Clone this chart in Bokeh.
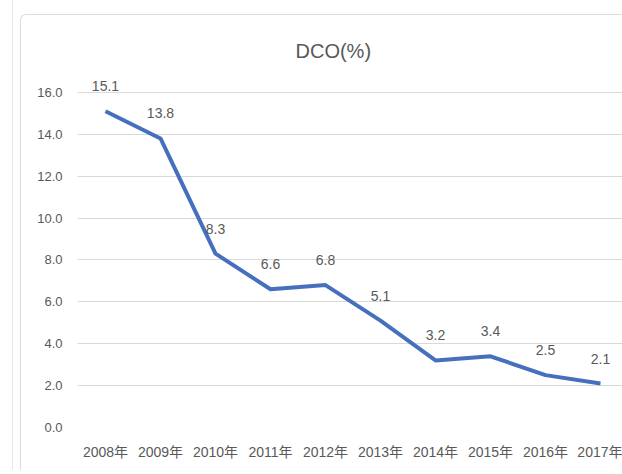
from bokeh.plotting import figure
from bokeh.models import Range1d, FixedTicker, NumeralTickFormatter, ColumnDataSource, InlineStyleSheet
from bokeh.core.properties import value
from bokeh.embed import file_html
from bokeh.resources import INLINE

years = ["2008年", "2009年", "2010年", "2011年", "2012年", "2013年", "2014年", "2015年", "2016年", "2017年"]
dco = [15.1, 13.8, 8.3, 6.6, 6.8, 5.1, 3.2, 3.4, 2.5, 2.1]
y_ticks = [0, 2, 4, 6, 8, 10, 12, 14, 16]

FONT = "'Liberation Sans', 'Noto Sans CJK SC', sans-serif"
GREY = "#595959"

idx = list(range(len(years)))
src = ColumnDataSource(dict(x=idx, y=dco, lbl=[f"{v:.1f}" for v in dco]))

p = figure(width=622, height=470, output_backend="svg", toolbar_location=None,
           x_range=Range1d(-0.509, 9.4), y_range=Range1d(0, 17.14),
           min_border_left=77, min_border_right=0, min_border_bottom=43, min_border_top=68,
           title="DCO(%)")
p.title.align = "left"
p.title.offset = 218
p.title.text_font = FONT
p.title.text_font_size = "20px"
p.title.text_font_style = "normal"
p.title.text_color = GREY
p.title.standoff = 14

p.outline_line_color = None
p.background_fill_color = "white"
p.border_fill_color = "white"

p.xgrid.grid_line_color = None
p.ygrid.grid_line_color = "#d9d9d9"
p.ygrid.grid_line_width = 1
p.yaxis.ticker = FixedTicker(ticks=y_ticks)
p.xaxis.ticker = FixedTicker(ticks=idx)
p.xaxis.major_label_overrides = {i: y for i, y in zip(idx, years)}
p.yaxis.formatter = NumeralTickFormatter(format="0.0")

for ax in (p.xaxis, p.yaxis):
    ax.axis_line_color = None
    ax.major_tick_line_color = None
    ax.minor_tick_line_color = None
    ax.major_tick_out = 0
    ax.major_tick_in = 0
    ax.major_label_text_font = FONT
    ax.major_label_text_font_size = "14px"
    ax.major_label_text_color = GREY
p.xaxis.major_label_standoff = 16
p.yaxis.major_label_standoff = 15
p.yaxis.major_label_text_font_size = "13px"

p.line("x", "y", source=src, line_color="#4670BD", line_width=4, line_join="round")
p.text("x", "y", text="lbl", source=src, y_offset=-25, text_align="center",
       text_baseline="middle", text_font=value(FONT), text_font_size="14px",
       text_color=GREY)

p.stylesheets = [InlineStyleSheet(css="""
:host { position: relative; }
:host::after { content: ""; position: absolute; left: 20px; top: 14px; right: 0; bottom: 0;
  border-left: 1.5px solid #dcdcdc; border-top: 1.5px solid #dcdcdc;
  border-top-left-radius: 6px; pointer-events: none; z-index: 5; }
:host::before { content: ""; position: absolute; left: 12px; top: 0; width: 0; bottom: 0;
  border-left: 1px solid #e6e6e6; pointer-events: none; z-index: 5; }
""")]

open("out.html", "w").write(file_html(p, INLINE))
